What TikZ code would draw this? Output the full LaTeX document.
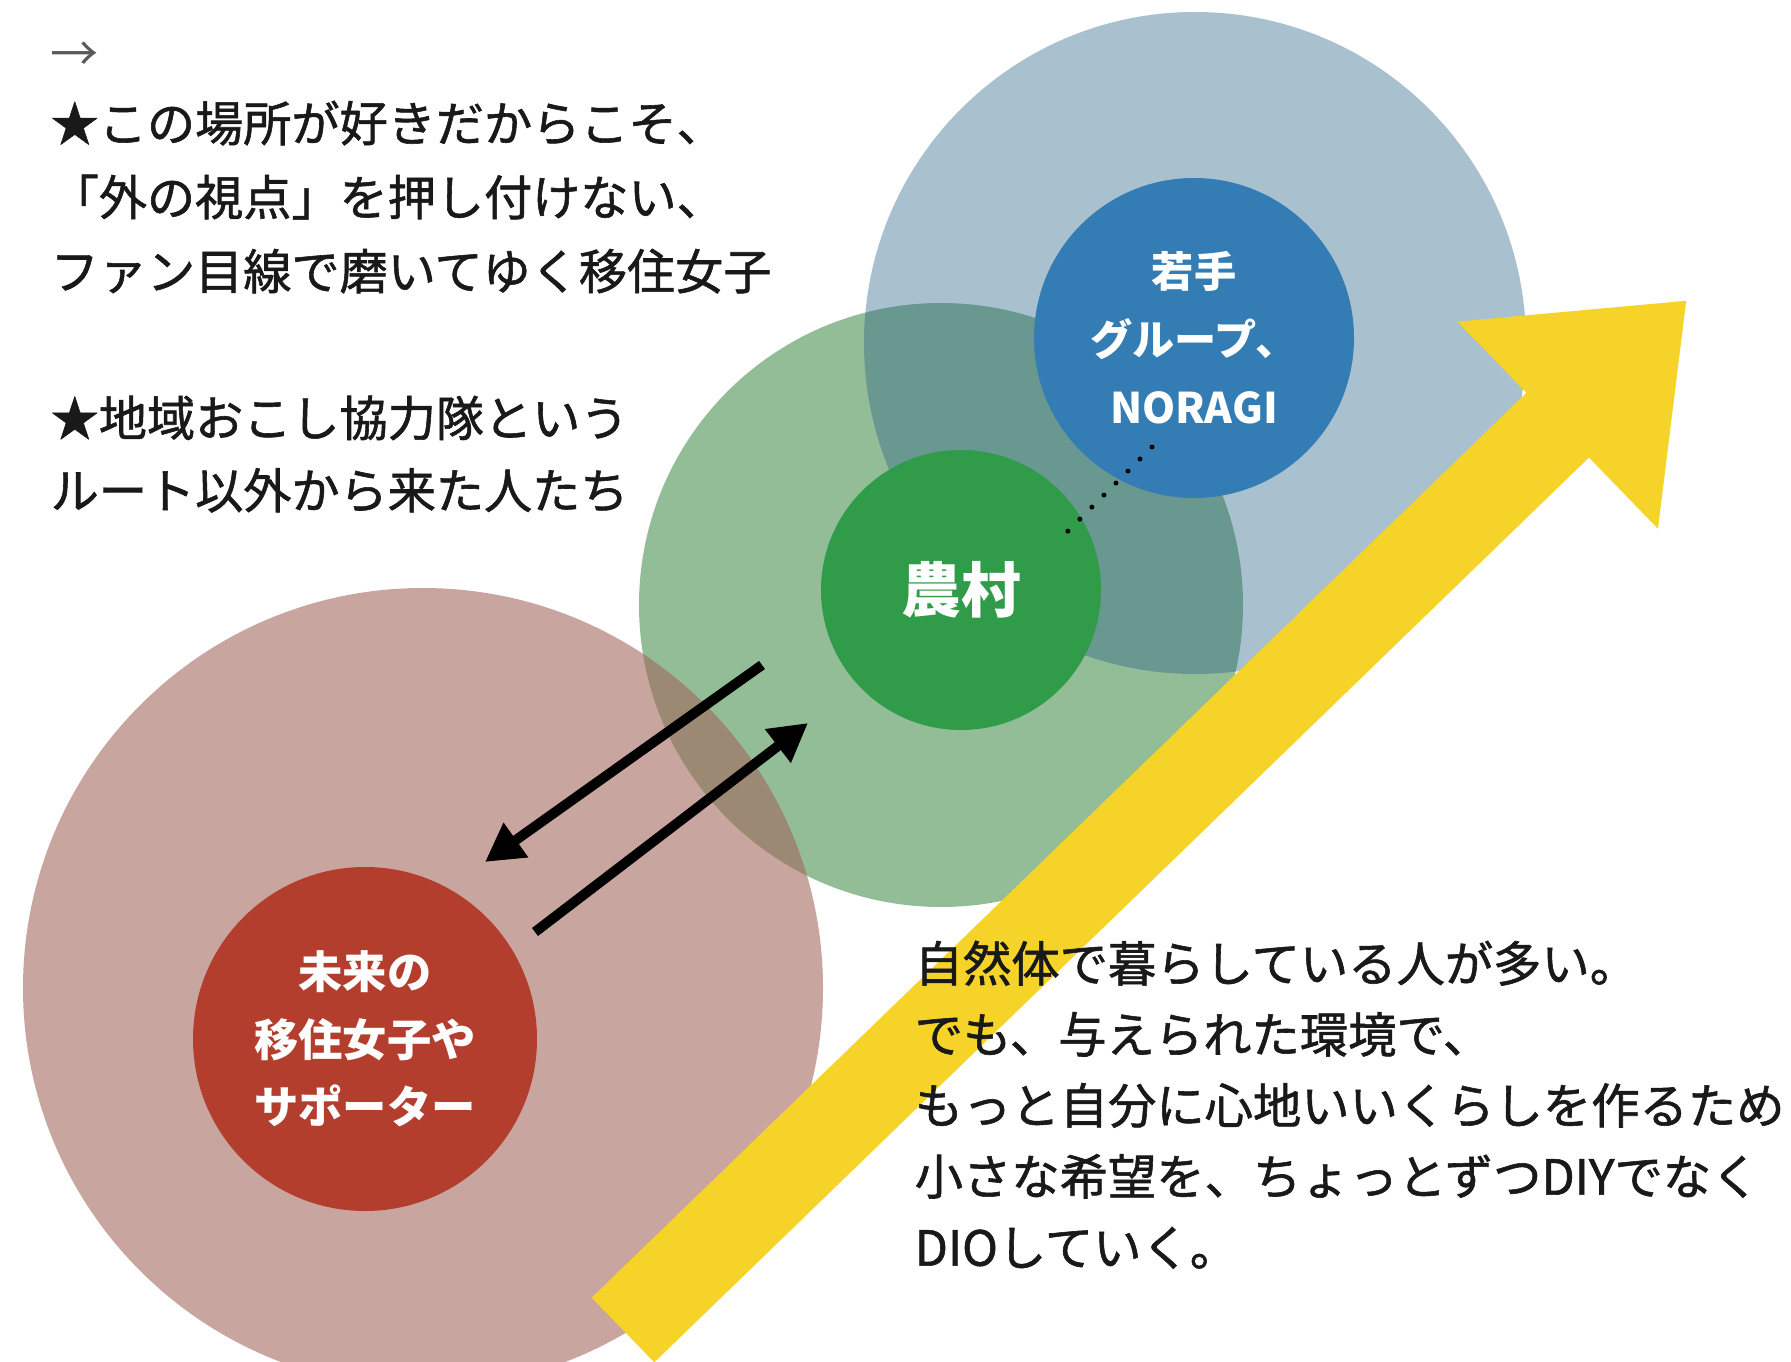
\documentclass[tikz,border=0pt]{standalone}
\usepackage{fontspec}
\setmainfont{Noto Sans CJK JP}
\newfontfamily\mittel{Noto Sans CJK JP}[FakeBold=1.2]
\usepackage{tikz}
\usetikzlibrary{arrows.meta}
\usetikzlibrary{positioning}
\definecolor{aoiusu}{RGB}{40,97,135}
\definecolor{midoriusu}{RGB}{147,189,151}
\definecolor{akausu}{RGB}{162,100,91}
\definecolor{aoi}{RGB}{51,125,180}
\definecolor{midori}{RGB}{48,155,72}
\definecolor{aka}{RGB}{180,62,45}
\definecolor{kiiro}{RGB}{245,211,40}

\begin{document}
\begin{tikzpicture}[x=0.1mm,y=-0.1mm,every node/.style={inner sep=0pt},
  big/.style={circle,draw=none},
  small/.style={circle,draw=none,text=white,align=center,font=\bfseries\fontsize{12}{19.3}\selectfont},
  body/.style={align=left,anchor=north west,text=black!90},
  pfeil/.style={line width=1mm,-{Triangle[length=3.8mm,width=4mm]}},
  ya/.style={kiiro,line width=9mm,-{Triangle[length=18mm,width=27.6mm]}}]
  \useasboundingbox (0,0) rectangle (1791,1362);
  \clip (0,0) rectangle (1791,1362);
  \node[big,fill=midoriusu,minimum size=60.4mm] (noson-wa) at (941,605) {};
  \node[big,fill=aoiusu,fill opacity=0.4,minimum size=66.2mm] (wakate-wa) at (1195,343) {};
  \node[big,fill=akausu,fill opacity=0.58,minimum size=80mm] (mirai-wa) at (423,988) {};
  \node[small,fill=aoi,minimum size=32mm] (wakate) at (1194,338) {若手\\グループ、\\NORAGI};
  \node[small,fill=midori,minimum size=28mm,font=\bfseries\fontsize{17}{20}\selectfont] (noson) at (961,590) {農村};
  \node[small,fill=aka,minimum size=34.4mm,font=\bfseries\fontsize{12.6}{19.2}\selectfont] (mirai) at (365,1039) {未来の\\移住女子や\\サポーター};
  \coordinate (ten-a) at (1152,447);
  \coordinate (ten-b) at (1056,543);
  \draw[line width=0.5mm,line cap=round,dash pattern=on 0pt off 1.7mm] (ten-a) -- (ten-b);
  \coordinate (iku-a) at (762,665);
  \coordinate (iku-b) at (485,862);
  \coordinate (kuru-a) at (535,932);
  \coordinate (kuru-b) at (808,723);
  \draw[pfeil] (iku-a) -- (iku-b);
  \draw[pfeil] (kuru-a) -- (kuru-b);
  \coordinate (ya-a) at (623,1330);
  \coordinate (ya-b) at (1687,300);
  \draw[ya] (ya-a) -- (ya-b);
  \node[text=black!65,anchor=west,font=\fontsize{13.7}{20}\selectfont] (yajirushi) at (50,57) {→};
  \node[body,font=\mittel\fontsize{13.7}{21.05}\selectfont] (suki) at (50,100) {★この場所が好きだからこそ、\\「外の視点」を押し付けない、\\ファン目線で磨いてゆく移住女子};
  \node[body,font=\mittel\fontsize{13.7}{20.6}\selectfont] (kyoryoku) at (50,395) {★地域おこし協力隊という\\ルート以外から来た人たち};
  \node[body,font=\mittel\fontsize{13.75}{20.2}\selectfont] (shizentai) at (914,940) {自然体で暮らしている人が多い。\\でも、与えられた環境で、\\もっと自分に心地いいくらしを作るため\\小さな希望を、ちょっとずつDIYでなく\\DIOしていく。};
\end{tikzpicture}
\end{document}
